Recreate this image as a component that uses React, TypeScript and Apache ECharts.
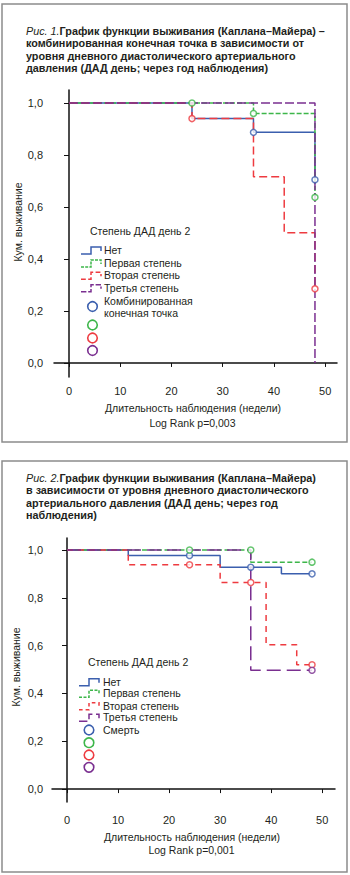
import React, { useEffect, useRef } from "react";
import * as echarts from "echarts";

// ---------- data ----------
const xTicks = [0, 10, 20, 30, 40, 50];
const yTicks = [0, 0.2, 0.4, 0.6, 0.8, 1.0];
const groupNames = ["Нет", "Первая степень", "Вторая степень", "Третья степень"];

// Figure 1: [weeks, cumulative survival]
const fig1None = [[0, 1], [24, 0.94], [36, 0.887], [48, 0.705]];
const fig1First = [[0, 1], [36, 0.96], [48, 0.637]];
const fig1Second = [[0, 1], [24, 0.94], [36, 0.716], [42, 0.501], [48, 0.285]];
const fig1Third = [[0, 1], [48, 0]];
const fig1NoneCensor = [[36, 0.887], [48, 0.705]];
const fig1FirstCensor = [[24, 1], [36, 0.96], [48, 0.637]];
const fig1SecondCensor = [[24, 0.94], [48, 0.285]];
const fig1ThirdCensor: number[][] = [];

// Figure 2
const fig2None = [[0, 1], [12, 0.977], [30, 0.928], [42, 0.9], [48, 0.9]];
const fig2First = [[0, 1], [36, 0.949], [48, 0.949]];
const fig2Second = [[0, 1], [12, 0.938], [30, 0.864], [39, 0.604], [45, 0.52], [48, 0.52]];
const fig2Third = [[0, 1], [36, 0.497], [48, 0.497]];
const fig2NoneCensor = [[24, 0.977], [36, 0.928], [48, 0.9]];
const fig2FirstCensor = [[24, 1], [36, 1], [48, 0.949]];
const fig2SecondCensor = [[24, 0.938], [36, 0.864], [48, 0.52]];
const fig2ThirdCensor = [[48, 0.497]];

const fig1Title = [
  "График функции выживания (Каплана–Майера) –",
  "комбинированная конечная точка в зависимости от",
  "уровня дневного диастолического артериального",
  "давления (ДАД день; через год наблюдения)",
];
const fig2Title = [
  "График функции выживания (Каплана–Майера)",
  "в зависимости от уровня дневного диастолического",
  "артериального давления (ДАД день; через год",
  "наблюдения)",
];

// ---------- styles ----------
const FONT = '"Liberation Sans", Arial, Helvetica, sans-serif';
const TXT = "#231f20";
const FS = 10.5;
const TFS = 10.8;
const COLORS = ["#3b5fae", "#3db64a", "#ee3b40", "#7a2f90"];
const DASH1: any[] = ["solid", [5, 2], [8, 4], [9, 3]];
const DASH2: any[] = ["solid", [5, 2.5], [6, 5], [14, 6]];

function fmt(v: number) {
  return v.toFixed(1).replace(".", ",");
}

function axesFor(idx: number, xMin: number, xMax: number, yMin: number, yMax: number, xMargin: number, yMargin: number) {
  const x = {
    type: "value",
    gridIndex: idx,
    min: xMin,
    max: xMax,
    splitLine: { show: false },
    axisLine: { show: true, lineStyle: { color: "#111", width: 1.5 } },
    axisTick: { show: true, length: 4, customValues: xTicks, lineStyle: { color: "#111", width: 1 } },
    axisLabel: { customValues: xTicks, color: TXT, fontSize: 11, fontFamily: FONT, margin: xMargin },
  };
  const y = {
    type: "value",
    gridIndex: idx,
    min: yMin,
    max: yMax,
    splitLine: { show: false },
    axisLine: { show: true, lineStyle: { color: "#111", width: 1.5 } },
    axisTick: { show: true, length: 5, customValues: yTicks, lineStyle: { color: "#111", width: 1 } },
    axisLabel: { customValues: yTicks, color: TXT, fontSize: 11, fontFamily: FONT, margin: yMargin, formatter: (v: number) => fmt(v) },
  };
  return { x, y };
}

function lineSeries(idx: number, name: string, data: number[][], color: string, dash: any) {
  return {
    type: "line",
    name,
    xAxisIndex: idx,
    yAxisIndex: idx,
    data,
    step: "end",
    showSymbol: false,
    symbol: "none",
    silent: true,
    lineStyle: { color, width: 1.5, type: dash },
    z: 2,
  };
}

function censorSeries(idx: number, name: string, data: number[][], color: string) {
  return {
    type: "scatter",
    name: name + " (цензур.)",
    xAxisIndex: idx,
    yAxisIndex: idx,
    data,
    symbol: "circle",
    symbolSize: 6,
    silent: true,
    itemStyle: { color: "#ffffff", borderColor: color, borderWidth: 1.5 },
    z: 5,
  };
}

function txt(text: string, x: number, y: number, extra: any = {}) {
  return {
    type: "text",
    x,
    y,
    silent: true,
    style: {
      text,
      fill: TXT,
      font: `${FS}px ${FONT}`,
      textAlign: extra.align || "left",
      textVerticalAlign: "middle",
      ...(extra.style || {}),
    },
    ...(extra.el || {}),
  };
}

function titleBlock(num: string, lines: string[], x: number, ys: number[]) {
  const els: any[] = [];
  els.push({
    type: "text",
    x,
    y: ys[0],
    silent: true,
    style: {
      text: `{i|Рис. ${num}.}{b|${lines[0]}}`,
      textVerticalAlign: "middle",
      rich: {
        i: { fill: TXT, color: TXT, fontStyle: "italic", fontSize: TFS, fontFamily: FONT },
        b: { fill: TXT, color: TXT, fontWeight: "bold", fontSize: TFS, fontFamily: FONT },
      },
    },
  });
  for (let i = 1; i < lines.length; i++) {
    els.push(txt(lines[i], x, ys[i], { style: { font: `bold ${TFS}px ${FONT}` } }));
  }
  return els;
}

function stepIcon(x0: number, c: number, color: string, dash: any, w = 20) {
  return {
    type: "polyline",
    silent: true,
    shape: {
      points: [
        [x0, c + 4],
        [x0 + w * 0.5, c + 4],
        [x0 + w * 0.5, c - 3],
        [x0 + w, c - 3],
        [x0 + w, c + 1],
      ],
    },
    style: { stroke: color, lineWidth: 1.5, fill: null, lineDash: dash === "solid" ? null : dash.map((d: number) => d * 0.6) },
  };
}

function legendBlock(
  titleY: number,
  titleX: number,
  itemYs: number[],
  iconX: number,
  textX: number,
  circleX: number,
  circleYs: number[],
  markerLabel: string[],
  markerLabelYs: number[],
  dashes: any[]
) {
  const els: any[] = [];
  els.push(txt("Степень ДАД день 2", titleX, titleY));
  groupNames.forEach((n, i) => {
    els.push(stepIcon(iconX, itemYs[i], COLORS[i], dashes[i]));
    els.push(txt(n, textX, itemYs[i]));
  });
  markerLabel.forEach((t, i) => els.push(txt(t, textX, markerLabelYs[i])));
  circleYs.forEach((cy, i) => {
    els.push({
      type: "circle",
      silent: true,
      shape: { cx: circleX, cy, r: 4.8 },
      style: { fill: null, stroke: COLORS[i], lineWidth: 1.6 },
    });
  });
  return els;
}

export default function App() {
  const ref = useRef<HTMLDivElement>(null);
  useEffect(() => {
    if (!ref.current) return;
    const chart = echarts.init(ref.current, null, { renderer: "svg" });

    const a1 = axesFor(0, -2.93, 52.3, -0.054, 1.05, 8, 11);
    const a2 = axesFor(1, -2.94, 52.5, -0.054, 1.05, 12, 9);

    const graphic: any[] = [
      {
        type: "rect",
        silent: true,
        shape: { x: 2, y: 4, width: 345, height: 438 },
        style: { fill: null, stroke: "#8c8c8c", lineWidth: 1.5 },
      },
      {
        type: "rect",
        silent: true,
        shape: { x: 2, y: 461, width: 345, height: 411 },
        style: { fill: null, stroke: "#8c8c8c", lineWidth: 1.5 },
      },
      ...titleBlock("1", fig1Title, 26, [31, 43.4, 55.8, 68.2]),
      ...titleBlock("2", fig2Title, 26, [477.7, 490, 502.5, 515]),
      txt("Кум. выживание", 18, 222, { align: "center", el: { rotation: Math.PI / 2 } }),
      txt("Кум. выживание", 16, 667, { align: "center", el: { rotation: Math.PI / 2 } }),
      txt("Длительность наблюдения (недели)", 193, 408, { align: "center" }),
      txt("Log Rank p=0,003", 192.5, 423, { align: "center" }),
      txt("Длительность наблюдения (недели)", 192, 837, { align: "center" }),
      txt("Log Rank p=0,001", 191.5, 850, { align: "center" }),
      ...legendBlock(230.7, 90, [250, 263, 275.3, 287.7], 81, 104, 92.5, [306.5, 325, 338, 350.5],
        ["Комбинированная", "конечная точка"], [301, 312.5], DASH1),
      ...legendBlock(661.7, 88, [681.7, 693.3, 705.7, 717.3], 79, 103, 89, [730, 742.7, 755, 767.3],
        ["Смерть"], [730], DASH2),
    ];

    const f1Lines = [fig1None, fig1First, fig1Second, fig1Third];
    const f1Cens = [fig1NoneCensor, fig1FirstCensor, fig1SecondCensor, fig1ThirdCensor];
    const f2Lines = [fig2None, fig2First, fig2Second, fig2Third];
    const f2Cens = [fig2NoneCensor, fig2FirstCensor, fig2SecondCensor, fig2ThirdCensor];

    const series: any[] = [];
    f1Lines.forEach((d, i) => series.push(lineSeries(0, groupNames[i], d, COLORS[i], DASH1[i])));
    f1Cens.forEach((d, i) => series.push(censorSeries(0, groupNames[i], d, COLORS[i])));
    f2Lines.forEach((d, i) => series.push(lineSeries(1, groupNames[i], d, COLORS[i], DASH2[i])));
    f2Cens.forEach((d, i) => series.push(censorSeries(1, groupNames[i], d, COLORS[i])));

    chart.setOption({
      animation: false,
      backgroundColor: "#ffffff",
      textStyle: { fontFamily: FONT },
      grid: [
        { left: 54, top: 90, width: 283, height: 287 },
        { left: 52, top: 538, width: 283, height: 264 },
      ],
      xAxis: [a1.x, a2.x],
      yAxis: [a1.y, a2.y],
      series,
      graphic,
    });
    return () => chart.dispose();
  }, []);

  return (
    <div
      ref={ref}
      style={{ position: "absolute", left: 0, top: 0, width: 350, height: 875, background: "#fff" }}
    />
  );
}
